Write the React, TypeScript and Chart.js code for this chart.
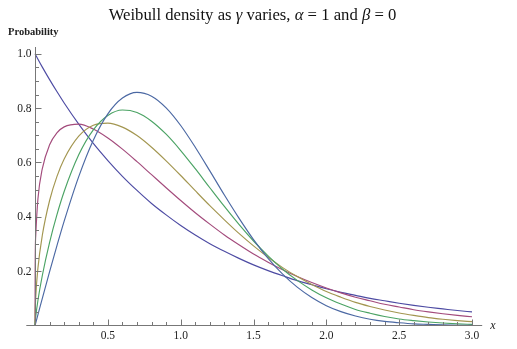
import React, { useEffect, useRef } from "react";
import { Chart, registerables } from "chart.js";

Chart.register(...registerables);

const xValues = [0, 0.001, 0.005, 0.02, 0.05, 0.1, 0.15, 0.2, 0.3, 0.4, 0.5, 0.6, 0.7, 0.8, 0.9, 1.0,
  1.1, 1.2, 1.3, 1.4, 1.5, 1.6, 1.7, 1.8, 1.9, 2.0, 2.1, 2.2, 2.3, 2.4, 2.5, 2.6, 2.7, 2.8, 2.9, 3.0];

const gamma100 = [1, 0.999, 0.995, 0.980, 0.951, 0.905, 0.861, 0.819, 0.741, 0.670, 0.607, 0.549, 0.497, 0.449, 0.407, 0.368,
  0.333, 0.301, 0.273, 0.247, 0.223, 0.202, 0.183, 0.165, 0.150, 0.135, 0.122, 0.111, 0.100, 0.091, 0.082, 0.074, 0.067, 0.061, 0.055, 0.050];

const gamma125 = [0, 0.222, 0.332, 0.467, 0.577, 0.665, 0.709, 0.731, 0.741, 0.723, 0.690, 0.649, 0.603, 0.555, 0.507, 0.460,
  0.415, 0.373, 0.333, 0.297, 0.263, 0.233, 0.205, 0.180, 0.158, 0.138, 0.120, 0.104, 0.091, 0.078, 0.068, 0.058, 0.050, 0.043, 0.037, 0.032];

const gamma150 = [0, 0.047, 0.106, 0.212, 0.332, 0.460, 0.548, 0.613, 0.697, 0.737, 0.745, 0.730, 0.699, 0.656, 0.606, 0.552,
  0.496, 0.441, 0.389, 0.339, 0.293, 0.251, 0.213, 0.180, 0.151, 0.125, 0.104, 0.085, 0.070, 0.057, 0.046, 0.037, 0.029, 0.023, 0.018, 0.014];

const gamma175 = [0, 0.010, 0.033, 0.093, 0.184, 0.306, 0.407, 0.493, 0.628, 0.720, 0.773, 0.793, 0.784, 0.752, 0.704, 0.644,
  0.577, 0.507, 0.438, 0.372, 0.311, 0.256, 0.207, 0.166, 0.131, 0.102, 0.079, 0.059, 0.045, 0.033, 0.024, 0.018, 0.013, 0.009, 0.006, 0.004];

const gamma200 = [0, 0.002, 0.010, 0.040, 0.100, 0.198, 0.293, 0.384, 0.548, 0.682, 0.779, 0.837, 0.858, 0.844, 0.801, 0.736,
  0.656, 0.569, 0.480, 0.395, 0.316, 0.247, 0.189, 0.141, 0.103, 0.073, 0.051, 0.035, 0.023, 0.015, 0.010, 0.006, 0.004, 0.002, 0.001, 0.001];

const seriesValues = [gamma100, gamma125, gamma150, gamma175, gamma200];
const seriesNames = ["γ = 1", "γ = 1.25", "γ = 1.5", "γ = 1.75", "γ = 2"];
const seriesColors = ["#4d4ba3", "#a34b7c", "#a39650", "#4ba364", "#4b68a3"];

const xTickLabels = ["0.5", "1.0", "1.5", "2.0", "2.5", "3.0"];
const yTickLabels = ["0.2", "0.4", "0.6", "0.8", "1.0"];

const axesPlugin = {
  id: "mmaAxes",
  afterDraw(chart: any) {
    const ctx = chart.ctx;
    const xs = chart.scales.x;
    const ys = chart.scales.y;
    const area = chart.chartArea;
    const x0 = Math.round(xs.getPixelForValue(0)) + 0.5;
    const y0 = Math.round(ys.getPixelForValue(0)) + 0.5;
    ctx.save();
    ctx.strokeStyle = "#777";
    ctx.lineWidth = 1;
    // axis lines
    ctx.beginPath();
    ctx.moveTo(area.left, y0);
    ctx.lineTo(area.right, y0);
    ctx.moveTo(x0, area.top);
    ctx.lineTo(x0, y0);
    ctx.stroke();
    // x ticks
    ctx.beginPath();
    for (let i = 1; i <= 30; i++) {
      const px = Math.round(xs.getPixelForValue(i / 10)) + 0.5;
      const len = i % 5 === 0 ? 6 : 3.5;
      ctx.moveTo(px, y0);
      ctx.lineTo(px, y0 - len);
    }
    // y ticks
    for (let i = 1; i <= 20; i++) {
      const py = Math.round(ys.getPixelForValue(i / 20)) + 0.5;
      const len = i % 4 === 0 ? 6 : 3.5;
      ctx.moveTo(x0, py);
      ctx.lineTo(x0 + len, py);
    }
    ctx.stroke();
    // tick labels
    ctx.fillStyle = "#222";
    ctx.font = '11.5px "Liberation Serif", serif';
    ctx.textAlign = "center";
    ctx.textBaseline = "middle";
    xTickLabels.forEach((t) => {
      ctx.fillText(t, xs.getPixelForValue(parseFloat(t)), y0 + 10);
    });
    ctx.textAlign = "right";
    yTickLabels.forEach((t) => {
      ctx.fillText(t, x0 - 4, ys.getPixelForValue(parseFloat(t)) + 0.5);
    });
    // axis labels
    ctx.textAlign = "left";
    ctx.textBaseline = "alphabetic";
    ctx.font = 'italic 12px "Liberation Serif", serif';
    ctx.fillText("x", area.right + 8, y0 + 3);
    ctx.font = 'bold 10.5px "Liberation Serif", serif';
    ctx.fillText("Probability", 8, 35);
    // title with italic greek
    const parts: [string, boolean][] = [
      ["Weibull density as ", false],
      ["γ", true],
      [" varies, ", false],
      ["α", true],
      [" = 1 and ", false],
      ["β", true],
      [" = 0", false],
    ];
    const fontFor = (it: boolean) => (it ? "italic " : "") + '16.7px "Liberation Serif", serif';
    let total = 0;
    parts.forEach(([s, it]) => {
      ctx.font = fontFor(it);
      total += ctx.measureText(s).width;
    });
    let cx = 252.5 - total / 2;
    ctx.fillStyle = "#111";
    parts.forEach(([s, it]) => {
      ctx.font = fontFor(it);
      ctx.fillText(s, cx, 19.5);
      cx += ctx.measureText(s).width;
    });
    ctx.restore();
  },
};

export default function App() {
  const ref = useRef<HTMLCanvasElement | null>(null);
  useEffect(() => {
    document.body.style.margin = "0";
    if (!ref.current) return;
    const chart = new Chart(ref.current, {
      type: "line",
      data: {
        datasets: seriesValues.map((vals, i) => ({
          label: seriesNames[i],
          data: xValues.map((x, j) => ({ x, y: vals[j] })),
          borderColor: seriesColors[i],
          borderWidth: 1.15,
          pointRadius: 0,
          fill: false,
          cubicInterpolationMode: "monotone" as const,
          order: 5 - i,
          clip: false as any,
        })),
      },
      options: {
        responsive: false,
        animation: false,
        events: [],
        layout: { padding: { left: 26.3, right: 34.8, top: 47, bottom: 20.8 } },
        plugins: { legend: { display: false }, title: { display: false }, tooltip: { enabled: false } },
        scales: {
          x: { type: "linear", min: -0.06, max: 3.07, display: false },
          y: { type: "linear", min: -0.01, max: 1.025, display: false },
        },
      },
      plugins: [axesPlugin],
    });
    return () => chart.destroy();
  }, []);
  return <canvas ref={ref} width={517} height={349} style={{ display: "block" }} />;
}
